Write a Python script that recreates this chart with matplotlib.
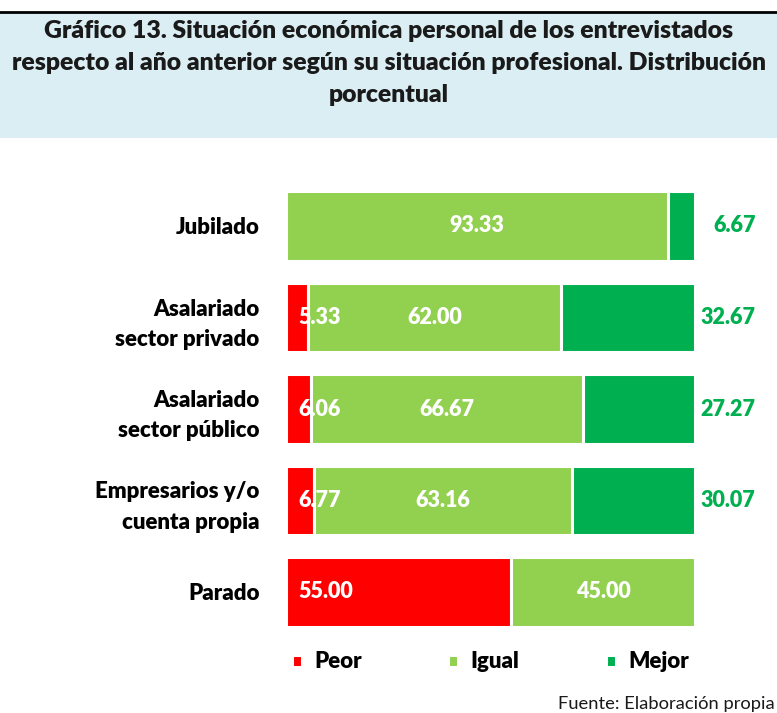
import matplotlib
matplotlib.use("Agg")
import matplotlib.pyplot as plt
from matplotlib.patches import Rectangle

categories = ["Jubilado", "Asalariado\nsector privado", "Asalariado\nsector público",
              "Empresarios y/o\ncuenta propia", "Parado"]
peor = [0.0, 5.33, 6.06, 6.77, 55.00]
igual = [93.33, 62.00, 66.67, 63.16, 45.00]
mejor = [6.67, 32.67, 27.27, 30.07, 0.0]
series_names = ["Peor", "Igual", "Mejor"]
colors = ["#FF0000", "#92D050", "#00B050"]

title = ("Gráfico 13. Situación económica personal de los entrevistados\n"
         "respecto al año anterior según su situación profesional. Distribución\n"
         "porcentual")
source = "Fuente: Elaboración propia"

plt.rcParams['font.family'] = ['Lato', 'DejaVu Sans']
BW = "heavy"

W, H = 777, 713
fig = plt.figure(figsize=(W / 100, H / 100), dpi=100)

# title box
fig.patches.append(Rectangle((0, 1 - 138 / H), 1, (138 - 12) / H, transform=fig.transFigure,
                             facecolor="#DAEEF3", edgecolor="none", zorder=0))
fig.lines.append(plt.Line2D([0, 1], [1 - 12 / H, 1 - 12 / H], transform=fig.transFigure,
                            color="black", linewidth=2))
fig.text(0.5, 1 - 63 / H, title, ha="center", va="center", fontsize=17.8, fontweight=BW,
         linespacing=1.56, color="#1a1a1a")

ax = fig.add_axes([286 / W, 1 - 637.75 / H, 409 / W, 457.5 / H])
y = list(range(len(categories)))
left = [0.0] * len(categories)
for vals, col, name in zip([peor, igual, mejor], colors, series_names):
    ax.barh(y, vals, left=left, height=0.765, color=col, edgecolor="white", linewidth=2.2,
            label=name)
    for i, v in enumerate(vals):
        if v <= 0:
            continue
        if name == "Peor":
            ax.text(left[i] + 3.1, i, f"{v:.2f}", ha="left", va="center", color="white",
                    fontsize=15.5, fontweight=BW)
        elif name == "Igual":
            ax.text(left[i] + v / 2, i, f"{v:.2f}", ha="center", va="center", color="white",
                    fontsize=15.5, fontweight=BW)
        else:
            ax.text(114.8, i, f"{v:.2f}", ha="right", va="center", color="#00B050",
                    fontsize=15.5, fontweight=BW, clip_on=False)
    left = [l + v for l, v in zip(left, vals)]

ax.set_xlim(0, 100)
ax.set_ylim(len(categories) - 0.5, -0.5)
ax.set_yticks(y)
ax.set_yticklabels(categories, fontsize=16, fontweight=BW, linespacing=1.54)
ax.tick_params(axis="y", length=0, pad=19)
ax.set_xticks([])
for s in ax.spines.values():
    s.set_visible(False)

leg = fig.legend(loc="center", bbox_to_anchor=(0.631, 1 - 662 / H), ncol=3, frameon=False,
                 prop={"size": 16, "weight": BW}, handlelength=0.45, handleheight=0.45,
                 handletextpad=0.55, columnspacing=3.9)

fig.text(1 - 2 / W, 1 - 704 / H, source, ha="right", va="center", fontsize=13.2, color="#1a1a1a")

fig.savefig("out.png", dpi=100)
